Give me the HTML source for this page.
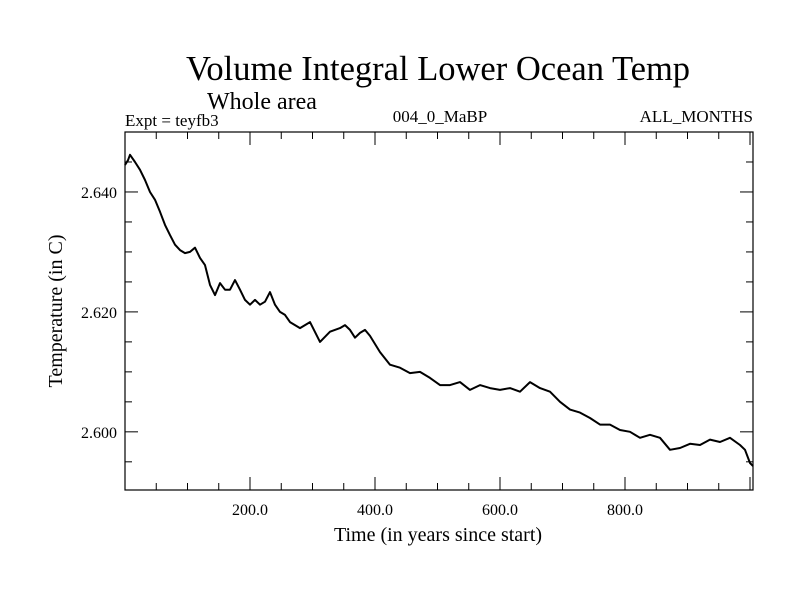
<!DOCTYPE html>
<html><head><meta charset="utf-8"><style>
body{margin:0;background:#fff}
svg text{font-family:"Liberation Serif",serif;fill:#000}
</style></head><body>
<svg width="800" height="600" xmlns="http://www.w3.org/2000/svg">
<text x="438" y="80" font-size="34.5" text-anchor="middle">Volume Integral Lower Ocean Temp</text>
<text x="207" y="109" font-size="24">Whole area</text>
<text x="125" y="126" font-size="17">Expt = teyfb3</text>
<text x="440" y="122" font-size="17" text-anchor="middle">004_0_MaBP</text>
<text x="753" y="122" font-size="17" text-anchor="end">ALL_MONTHS</text>
<g id="axes"></g>
<text x="438" y="541" font-size="20" text-anchor="middle">Time (in years since start)</text>
<text transform="translate(62,311) rotate(-90)" font-size="20" text-anchor="middle">Temperature (in C)</text>
</svg>
<script>
const years=[0,4.8,8,16,24,32,40,48,56,64,72,80,88,96,104,112,120,128,136,144,152,160,168,176,184,192,200,208,216,224,232,240,248,256,264,280,296,312,328,344,352,360,368,376,384,392,408,424,440,456,472,488,504,520,536,552,568,584,600,616,632,648,664,680,696,712,728,744,760,776,792,808,824,840,856,872,888,904,920,936,952,968,984,992,1000,1004.8];
const temps=[2.6445,2.6453,2.6462,2.6450,2.6437,2.6420,2.6400,2.6387,2.6367,2.6345,2.6328,2.6312,2.6303,2.6298,2.6300,2.6307,2.6290,2.6278,2.6245,2.6228,2.6248,2.6237,2.6237,2.6253,2.6237,2.6220,2.6212,2.6220,2.6212,2.6217,2.6233,2.6212,2.6200,2.6195,2.6183,2.6173,2.6183,2.6150,2.6167,2.6173,2.6178,2.6170,2.6157,2.6165,2.6170,2.6160,2.6133,2.6112,2.6107,2.6098,2.6100,2.6090,2.6078,2.6078,2.6083,2.6070,2.6078,2.6073,2.6070,2.6073,2.6067,2.6083,2.6073,2.6067,2.6050,2.6037,2.6032,2.6023,2.6012,2.6012,2.6003,2.6000,2.5990,2.5995,2.5990,2.5970,2.5973,2.5980,2.5978,2.5987,2.5983,2.5990,2.5978,2.5970,2.5948,2.5943];
const xTicks=[200,400,600,800];
const xTickLabels=["200.0","400.0","600.0","800.0"];
const yTicks=[2.600,2.620,2.640];
const yTickLabels=["2.600","2.620","2.640"];
const L=125,R=753,T=132,B=490,X0=0,X1=1004.8,Y0=2.5903,Y1=2.6500;
const sx=v=>L+(v-X0)/(X1-X0)*(R-L);
const sy=v=>B-(v-Y0)/(Y1-Y0)*(B-T);
const NS="http://www.w3.org/2000/svg";
const g=document.getElementById('axes');
function mk(t,a){const e=document.createElementNS(NS,t);for(const k in a)e.setAttribute(k,a[k]);g.appendChild(e);return e;}
const frame=mk('rect',{x:L,y:T,width:R-L,height:B-T,fill:'none',stroke:'#000','stroke-width':1.2});


for(let v=50;v<X1;v+=50){const x=sx(v);const len=(v%200===0)?13:7;
 const t1=mk('line',{x1:x,x2:x,y1:B,y2:B-len,stroke:'#000'});
 
 
 const t2=mk('line',{x1:x,x2:x,y1:T,y2:T+len,stroke:'#000'});
 
 }
xTicks.forEach((v,i)=>{const t=mk('text',{x:sx(v),y:B+25,'font-size':16,'text-anchor':'middle'});t.textContent=xTickLabels[i];
 
 });
for(let k=0;k<12;k++){const v=2.595+k*0.005;const y=sy(v);if(y<T||y>B)continue;const major=Math.abs(((v-2.600)/0.02)-Math.round((v-2.600)/0.02))<1e-6;const len=major?13:7;
 const t1=mk('line',{x1:L,x2:L+len,y1:y,y2:y,stroke:'#000'});
 
 
 const t2=mk('line',{x1:R,x2:R-len,y1:y,y2:y,stroke:'#000'});
 
 }
yTicks.forEach((v,i)=>{const t=mk('text',{x:L-8,y:sy(v)+6,'font-size':16,'text-anchor':'end'});t.textContent=yTickLabels[i];
 
 });
const n=Math.min(years.length,temps.length);
let d='';for(let i=0;i<n;i++)d+=(i?'L':'M')+sx(years[i]).toFixed(1)+','+sy(temps[i]).toFixed(1);
const line=mk('path',{d:d,fill:'none',stroke:'#000','stroke-width':2,'stroke-linejoin':'round'});


</script>
</body></html>
